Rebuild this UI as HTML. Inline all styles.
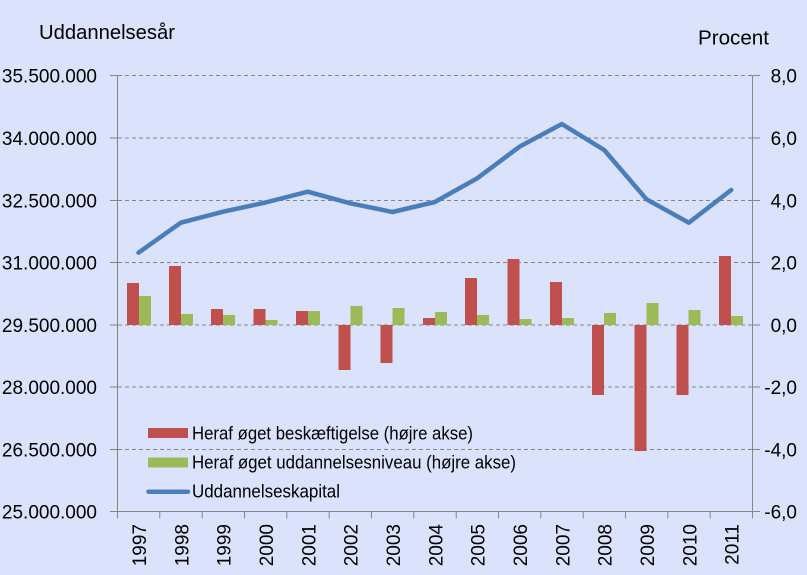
<!DOCTYPE html>
<html>
<head>
<meta charset="utf-8">
<style>
html,body{margin:0;padding:0;background:#dbe2fc;}
svg{display:block;}
text{font-family:"Liberation Sans",sans-serif;fill:#000;}
</style>
</head>
<body>
<svg width="807" height="575" viewBox="0 0 807 575" xmlns="http://www.w3.org/2000/svg">
<rect x="0" y="0" width="807" height="575" fill="#dbe2fc"/>

<!-- gridlines -->
<g stroke="#868686" stroke-width="1" stroke-dasharray="4,3" fill="none">
<line x1="118" y1="75.5" x2="752" y2="75.5"/>
<line x1="118" y1="138" x2="752" y2="138"/>
<line x1="118" y1="200.5" x2="752" y2="200.5"/>
<line x1="118" y1="262.5" x2="752" y2="262.5"/>
<line x1="118" y1="325" x2="752" y2="325"/>
<line x1="118" y1="387" x2="752" y2="387"/>
<line x1="118" y1="449.5" x2="752" y2="449.5"/>
</g>

<!-- bars red -->
<g fill="#c0504d">
<rect x="127" y="283" width="12" height="42"/>
<rect x="169" y="266" width="12" height="59"/>
<rect x="211" y="309" width="12" height="16"/>
<rect x="253.5" y="309" width="12" height="16"/>
<rect x="296" y="311" width="12" height="14"/>
<rect x="338.5" y="325" width="12" height="45"/>
<rect x="380.5" y="325" width="12" height="38"/>
<rect x="423" y="318" width="12" height="7"/>
<rect x="465" y="278" width="12" height="47"/>
<rect x="507.5" y="259" width="12" height="66"/>
<rect x="550" y="282" width="12" height="43"/>
<rect x="592" y="325" width="12" height="70"/>
<rect x="634.5" y="325" width="12" height="126"/>
<rect x="676.5" y="325" width="12" height="70"/>
<rect x="719" y="256" width="12" height="69"/>
</g>
<!-- bars green -->
<g fill="#9bbb59">
<rect x="139" y="296" width="12" height="29"/>
<rect x="181" y="314" width="12" height="11"/>
<rect x="223" y="315" width="12" height="10"/>
<rect x="265.5" y="320" width="12" height="5"/>
<rect x="308" y="311" width="12" height="14"/>
<rect x="350.5" y="306" width="12" height="19"/>
<rect x="392.5" y="308" width="12" height="17"/>
<rect x="435" y="312" width="12" height="13"/>
<rect x="477" y="315" width="12" height="10"/>
<rect x="519.5" y="319" width="12" height="6"/>
<rect x="562" y="318" width="12" height="7"/>
<rect x="604" y="313" width="12" height="12"/>
<rect x="646.5" y="303" width="12" height="22"/>
<rect x="688.5" y="310" width="12" height="15"/>
<rect x="731" y="316" width="12" height="9"/>
</g>

<!-- line -->
<polyline fill="none" stroke="#4a7ebb" stroke-width="4.5" stroke-linejoin="round" stroke-linecap="round"
points="138.5,252.7 180.8,222.7 223.1,211.7 265.5,202.5 307.8,191.7 350.2,203.3 392.5,212 434.8,202 477.2,178.3 519.5,146.7 561.8,124 604.2,150 646.5,199.3 688.8,222.7 731.2,190"/>

<!-- axes -->
<g stroke="#868686" stroke-width="1" fill="none">
<line x1="117.5" y1="75.5" x2="117.5" y2="511.5"/>
<line x1="752.5" y1="75.5" x2="752.5" y2="511.5"/>
<line x1="110" y1="511.5" x2="760" y2="511.5"/>
<!-- left ticks -->
<line x1="110" y1="75.5" x2="117.5" y2="75.5"/>
<line x1="110" y1="138" x2="117.5" y2="138"/>
<line x1="110" y1="200.5" x2="117.5" y2="200.5"/>
<line x1="110" y1="262.5" x2="117.5" y2="262.5"/>
<line x1="110" y1="325" x2="117.5" y2="325"/>
<line x1="110" y1="387" x2="117.5" y2="387"/>
<line x1="110" y1="449.5" x2="117.5" y2="449.5"/>
<!-- right ticks -->
<line x1="752.5" y1="75.5" x2="760" y2="75.5"/>
<line x1="752.5" y1="138" x2="760" y2="138"/>
<line x1="752.5" y1="200.5" x2="760" y2="200.5"/>
<line x1="752.5" y1="262.5" x2="760" y2="262.5"/>
<line x1="752.5" y1="325" x2="760" y2="325"/>
<line x1="752.5" y1="387" x2="760" y2="387"/>
<line x1="752.5" y1="449.5" x2="760" y2="449.5"/>
<!-- x ticks -->
<line x1="117.5" y1="511.5" x2="117.5" y2="518.5"/>
<line x1="159.8" y1="511.5" x2="159.8" y2="518.5"/>
<line x1="202.2" y1="511.5" x2="202.2" y2="518.5"/>
<line x1="244.5" y1="511.5" x2="244.5" y2="518.5"/>
<line x1="286.8" y1="511.5" x2="286.8" y2="518.5"/>
<line x1="329.2" y1="511.5" x2="329.2" y2="518.5"/>
<line x1="371.5" y1="511.5" x2="371.5" y2="518.5"/>
<line x1="413.8" y1="511.5" x2="413.8" y2="518.5"/>
<line x1="456.2" y1="511.5" x2="456.2" y2="518.5"/>
<line x1="498.5" y1="511.5" x2="498.5" y2="518.5"/>
<line x1="540.8" y1="511.5" x2="540.8" y2="518.5"/>
<line x1="583.2" y1="511.5" x2="583.2" y2="518.5"/>
<line x1="625.5" y1="511.5" x2="625.5" y2="518.5"/>
<line x1="667.8" y1="511.5" x2="667.8" y2="518.5"/>
<line x1="710.2" y1="511.5" x2="710.2" y2="518.5"/>
<line x1="752.5" y1="511.5" x2="752.5" y2="518.5"/>
</g>

<!-- titles -->
<text x="39" y="39" font-size="20" textLength="136" lengthAdjust="spacingAndGlyphs">Uddannelsesår</text>
<text x="698" y="44.5" font-size="20" textLength="71" lengthAdjust="spacingAndGlyphs">Procent</text>

<!-- left labels -->
<g font-size="19" text-anchor="end">
<text x="97" y="82.5">35.500.000</text>
<text x="97" y="145">34.000.000</text>
<text x="97" y="207.5">32.500.000</text>
<text x="97" y="269.5">31.000.000</text>
<text x="97" y="332">29.500.000</text>
<text x="97" y="394">28.000.000</text>
<text x="97" y="456.5">26.500.000</text>
<text x="97" y="518.5">25.000.000</text>
</g>
<!-- right labels -->
<g font-size="19" text-anchor="end">
<text x="797" y="82.5">8,0</text>
<text x="797" y="145">6,0</text>
<text x="797" y="207.5">4,0</text>
<text x="797" y="269.5">2,0</text>
<text x="797" y="332">0,0</text>
<text x="797" y="394">-2,0</text>
<text x="797" y="456.5">-4,0</text>
<text x="797" y="518.5">-6,0</text>
</g>

<!-- year labels -->
<g font-size="19" text-anchor="end">
<text transform="translate(146,524) rotate(-90)">1997</text>
<text transform="translate(188.3,524) rotate(-90)">1998</text>
<text transform="translate(230.6,524) rotate(-90)">1999</text>
<text transform="translate(273,524) rotate(-90)">2000</text>
<text transform="translate(315.3,524) rotate(-90)">2001</text>
<text transform="translate(357.7,524) rotate(-90)">2002</text>
<text transform="translate(400,524) rotate(-90)">2003</text>
<text transform="translate(442.3,524) rotate(-90)">2004</text>
<text transform="translate(484.7,524) rotate(-90)">2005</text>
<text transform="translate(527,524) rotate(-90)">2006</text>
<text transform="translate(569.3,524) rotate(-90)">2007</text>
<text transform="translate(611.7,524) rotate(-90)">2008</text>
<text transform="translate(654,524) rotate(-90)">2009</text>
<text transform="translate(696.3,524) rotate(-90)">2010</text>
<text transform="translate(738.7,524) rotate(-90)">2011</text>
</g>

<!-- legend -->
<rect x="148" y="428" width="40" height="10" fill="#c0504d"/>
<rect x="148" y="457.5" width="40" height="10" fill="#9bbb59"/>
<line x1="148.5" y1="491.7" x2="188" y2="491.7" stroke="#4a7ebb" stroke-width="4.5" stroke-linecap="round"/>
<g font-size="18">
<text x="192" y="439.3" textLength="281" lengthAdjust="spacingAndGlyphs">Heraf øget beskæftigelse (højre akse)</text>
<text x="192" y="468.3" textLength="324" lengthAdjust="spacingAndGlyphs">Heraf øget uddannelsesniveau (højre akse)</text>
<text x="192" y="497.3" textLength="148" lengthAdjust="spacingAndGlyphs">Uddannelseskapital</text>
</g>
</svg>
</body>
</html>
